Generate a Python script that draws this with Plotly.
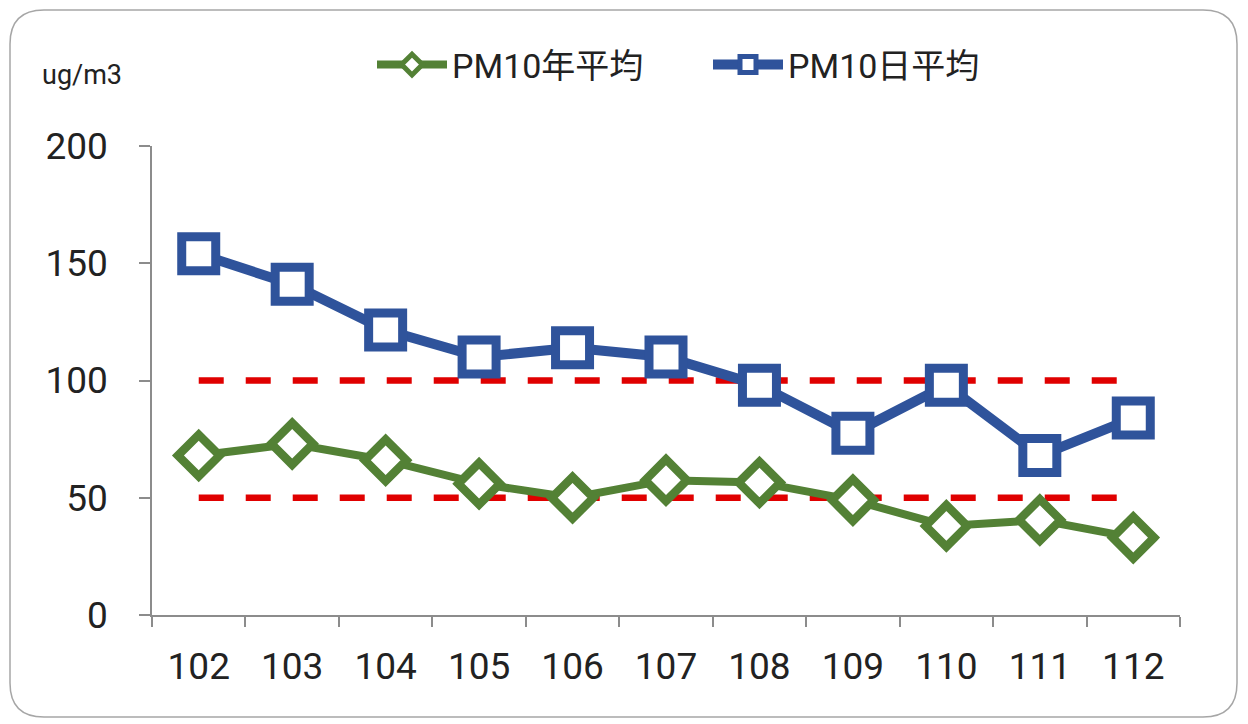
import plotly.graph_objects as go

years = ["102", "103", "104", "105", "106", "107", "108", "109", "110", "111", "112"]
pm10_annual = [68, 73, 66, 56, 50, 57.5, 56.5, 49, 38, 40.5, 33]
pm10_daily = [154, 141, 121.5, 110, 114, 110, 98, 77.5, 98, 68, 84]
std_daily = [100] * 11
std_annual = [50] * 11
yticks = [0, 50, 100, 150, 200]

GREEN = "#538135"
BLUE = "#2F539B"
RED = "#E00000"
AXIS = "#8C8C8C"
FONT = "Liberation Sans Narrow, Roboto, Noto Sans CJK TC, sans-serif"

OFF = 8  # page body margin
W, H = 1248 - OFF, 724 - OFF
# plot area in screen pixels
L, R, T, B = 152, 1180, 146, 615


def px2x(p):
    return (p - L) / (R - L)


def py2y(p):
    return (B - p) / (B - T)


fig = go.Figure()

for vals in (std_daily, std_annual):
    fig.add_trace(go.Scatter(
        x=years, y=vals, mode="lines", showlegend=False, hoverinfo="skip",
        line=dict(color=RED, width=6.5, dash="25px,22px"),
    ))

fig.add_trace(go.Scatter(
    x=years, y=pm10_annual, mode="lines+markers", name="PM10年平均",
    line=dict(color=GREEN, width=8),
    marker=dict(symbol="diamond", size=32, color="white",
                line=dict(color=GREEN, width=8.5)),
))
fig.add_trace(go.Scatter(
    x=years, y=pm10_daily, mode="lines+markers", name="PM10日平均",
    line=dict(color=BLUE, width=10),
    marker=dict(symbol="square", size=34, color="white",
                line=dict(color=BLUE, width=9)),
))

# rounded frame
x0, x1, y0, y1 = px2x(10), px2x(1237), py2y(10), py2y(717)
rx = 34 / (R - L)
ry = 34 / (B - T)
path = (
    f"M {x0 + rx},{y0} L {x1 - rx},{y0} Q {x1},{y0} {x1},{y0 - ry} "
    f"L {x1},{y1 + ry} Q {x1},{y1} {x1 - rx},{y1} "
    f"L {x0 + rx},{y1} Q {x0},{y1} {x0},{y1 + ry} "
    f"L {x0},{y0 - ry} Q {x0},{y0} {x0 + rx},{y0} Z"
)
fig.add_shape(type="path", path=path, xref="paper", yref="paper",
              line=dict(color="#A6A6A6", width=1.5), layer="below")

fig.add_annotation(text="ug/m3", xref="paper", yref="paper",
                   x=px2x(40), y=py2y(75), xanchor="left", yanchor="middle",
                   showarrow=False, font=dict(family=FONT, size=27, color="#222"))

fig.update_layout(
    width=W, height=H,
    margin=dict(l=L - OFF, r=W - (R - OFF), t=T - OFF, b=H - (B - OFF)),
    paper_bgcolor="white", plot_bgcolor="white",
    font=dict(family=FONT, color="#222"),
    showlegend=True,
    legend=dict(orientation="h", x=px2x(372), y=py2y(65), xanchor="left",
                yanchor="middle", itemwidth=70, entrywidth=251,
                entrywidthmode="pixels", font=dict(size=34, family=FONT),
                bgcolor="rgba(0,0,0,0)"),
    xaxis=dict(type="category", showline=True, linecolor=AXIS, linewidth=1.5,
               ticks="outside", tickson="boundaries", ticklen=10, tickcolor=AXIS,
               tickwidth=1.5, showgrid=False, zeroline=False,
               ticklabelstandoff=18,
               tickfont=dict(size=37, family=FONT, color="#222"),
               range=[-0.5, 10.5]),
    yaxis=dict(range=[0, 200], tickvals=yticks, showline=True, linecolor=AXIS,
               linewidth=1.5, ticks="outside", ticklen=11, tickcolor=AXIS,
               tickwidth=1.5, showgrid=False, zeroline=False,
               ticklabelstandoff=24,
               tickfont=dict(size=37, family=FONT, color="#222")),
)

fig.write_html("out.html")
